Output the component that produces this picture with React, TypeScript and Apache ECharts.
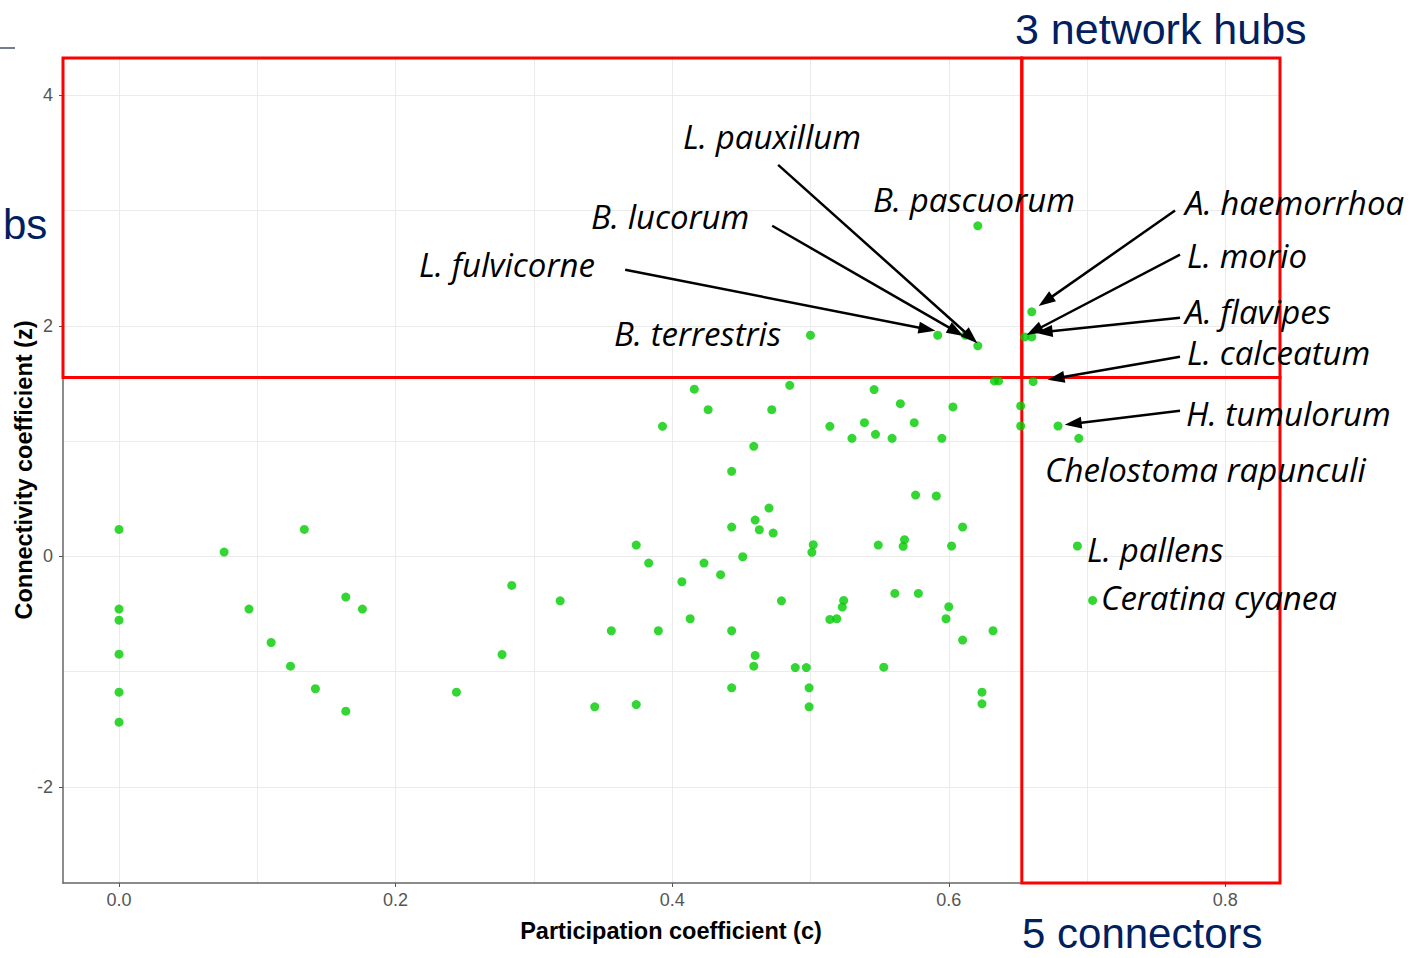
import React, { useEffect, useRef } from "react";
import * as echarts from "echarts";

// ---- data ----
const participation = [
  0, 0, 0, 0, 0, 0,
  0.076, 0.134, 0.164, 0.176, 0.094, 0.110, 0.124, 0.142, 0.244, 0.164,
  0.416, 0.485, 0.426, 0.472, 0.393, 0.514, 0.459, 0.443, 0.470, 0.460,
  0.463, 0.443, 0.473, 0.374, 0.502, 0.501, 0.451, 0.383, 0.423, 0.435,
  0.407, 0.284, 0.319, 0.479, 0.524, 0.523, 0.514, 0.519, 0.413, 0.356,
  0.390, 0.443, 0.277, 0.460, 0.459, 0.489, 0.497, 0.443, 0.499, 0.374,
  0.344, 0.499,
  0.633, 0.636, 0.661, 0.546, 0.565, 0.603, 0.652, 0.539, 0.575, 0.652,
  0.679, 0.530, 0.547, 0.559, 0.595, 0.694, 0.576, 0.591, 0.610, 0.549,
  0.568, 0.567, 0.602, 0.693, 0.704, 0.561, 0.578, 0.600, 0.598, 0.610,
  0.632, 0.553, 0.624, 0.624,
  0.621, 0.660, 0.592, 0.612, 0.621, 0.655, 0.660, 0.500,
];
const connectivity = [
  0.234, -0.457, -0.553, -0.848, -1.178, -1.438,
  0.037, 0.234, -0.353, -0.457, -0.457, -0.747, -0.952, -1.148, -1.178, -1.343,
  1.450, 1.484, 1.273, 1.273, 1.128, 1.128, 0.955, 0.738, 0.419, 0.315,
  0.231, 0.254, 0.202, 0.098, 0.101, 0.035, -0.003, -0.058, -0.058, -0.159,
  -0.220, -0.252, -0.385, -0.385, -0.382, -0.440, -0.547, -0.541, -0.541, -0.645,
  -0.645, -0.645, -0.851, -0.859, -0.952, -0.964, -0.964, -1.140, -1.140, -1.285,
  -1.305, -1.305,
  1.522, 1.522, 1.517, 1.447, 1.325, 1.296, 1.305, 1.160, 1.160, 1.131,
  1.131, 1.024, 1.059, 1.024, 1.024, 1.024, 0.532, 0.524, 0.255, 0.098,
  0.145, 0.087, 0.090, 0.090, -0.382, -0.321, -0.321, -0.437, -0.541, -0.726,
  -0.645, -0.961, -1.178, -1.279,
  2.867, 2.121, 1.918, 1.918, 1.826, 1.904, 1.904, 1.918,
];

const xMajorTicks = [0, 0.2, 0.4, 0.6, 0.8];
const xGridValues = [0, 0.1, 0.2, 0.3, 0.4, 0.5, 0.6, 0.7, 0.8];
const yMajorTicks = [-2, 0, 2, 4];
const yGridValues = [-2, -1, 0, 1, 2, 3, 4];
const xRange = [-0.0405, 0.8395];
const yRange = [-2.833, 4.323];
const hubThreshold = 1.552;
const connectorThreshold = 0.6528;

// annotation arrows (from label -> species point), data coordinates
const arrowStartC = [0.4766, 0.4723, 0.366, 0.7636, 0.7672, 0.7672, 0.7672, 0.7672];
const arrowStartZ = [3.396, 2.868, 2.486, 3.0, 2.617, 2.07, 1.732, 1.264];
const arrowEndC = [0.6161, 0.6053, 0.5843, 0.67, 0.6617, 0.6689, 0.6775, 0.6899];
const arrowEndZ = [1.899, 1.949, 1.971, 2.214, 1.955, 1.947, 1.545, 1.151];

const speciesNames = [
  "L. pauxillum", "B. pascuorum", "B. lucorum", "L. fulvicorne", "B. terrestris",
  "A. haemorrhoa", "L. morio", "A. flavipes", "L. calceatum", "H. tumulorum",
  "Chelostoma rapunculi", "L. pallens", "Ceratina cyanea",
];
const speciesLabelPos: number[][] = [
  [683, 136], [873, 199], [591, 216], [419, 264], [614, 333],
  [1185, 202], [1187, 255], [1185, 311], [1187, 352], [1186, 413],
  [1045, 469], [1087, 549], [1101, 597],
];

const NAVY = "#002060";

export default function App() {
  const ref = useRef<HTMLDivElement>(null);

  useEffect(() => {
    if (!ref.current) return;
    const chart = echarts.init(ref.current, undefined, { renderer: "svg" });

    const points = participation.map((c, i) => [c, connectivity[i]]);
    const arrows = arrowStartC.map((c, i) => [
      { coord: [c, arrowStartZ[i]] },
      { coord: [arrowEndC[i], arrowEndZ[i]] },
    ]);

    const labelFont = "italic 33px 'Open Sans'";
    const graphics: any[] = speciesNames.map((name, i) => ({
      type: "text",
      x: speciesLabelPos[i][0],
      y: speciesLabelPos[i][1],
      z: 100,
      style: {
        text: name,
        font: labelFont,
        lineHeight: 36,
        fill: "#000",
        textAlign: "left",
        textVerticalAlign: "middle",
      },
    }));
    graphics.push(
      {
        type: "text", x: 1015, y: 29, z: 100,
        style: { text: "3 network hubs", font: "43px 'Liberation Sans'", fill: NAVY, textAlign: "left", textVerticalAlign: "middle" },
      },
      {
        type: "text", x: 1022, y: 933, z: 100,
        style: { text: "5 connectors", font: "42px 'Liberation Sans'", fill: NAVY, textAlign: "left", textVerticalAlign: "middle" },
      },
      {
        type: "text", x: 3, y: 224, z: 100,
        style: { text: "bs", font: "42px 'Liberation Sans'", fill: NAVY, textAlign: "left", textVerticalAlign: "middle" },
      },
      {
        type: "line", z: 100,
        shape: { x1: 0, y1: 48, x2: 15, y2: 48 },
        style: { stroke: "#44546a", lineWidth: 1.5 },
      },
      {
        type: "text", x: 671, y: 931, z: 100,
        style: { text: "Participation coefficient (c)", font: "bold 23.5px 'Liberation Sans'", fill: "#000", textAlign: "center", textVerticalAlign: "middle" },
      },
      {
        type: "text", x: 24, y: 470, rotation: Math.PI / 2, z: 100,
        style: { text: "Connectivity coefficient (z)", font: "bold 23.5px 'Liberation Sans'", fill: "#000", textAlign: "center", textVerticalAlign: "middle" },
      }
    );

    const tickLabel = { color: "#555555", fontSize: 18, lineHeight: 18, fontFamily: "'Liberation Sans'" };

    chart.setOption({
      animation: false,
      backgroundColor: "#fff",
      grid: { left: 63, top: 58, width: 1217, height: 825, outerBoundsMode: "none", containLabel: false },
      xAxis: [
        {
          type: "value", min: xRange[0], max: xRange[1], position: "bottom",
          axisLine: { show: true, onZero: false, lineStyle: { color: "#666", width: 1.5 } },
          axisTick: { show: false, customValues: xGridValues },
          axisLabel: { ...tickLabel, margin: 8, customValues: xMajorTicks, formatter: (v: number) => v.toFixed(1) },
          splitLine: { show: true, lineStyle: { color: "#ebebeb", width: 1 } },
        },
        {
          type: "value", min: xRange[0], max: xRange[1], position: "bottom",
          axisLine: { show: false, onZero: false },
          axisTick: { show: true, length: 4, customValues: xMajorTicks, lineStyle: { color: "#555" } },
          axisLabel: { show: false },
          splitLine: { show: false },
        },
      ],
      yAxis: [
        {
          type: "value", min: yRange[0], max: yRange[1], position: "left",
          axisLine: { show: true, onZero: false, lineStyle: { color: "#666", width: 1.5 } },
          axisTick: { show: false, customValues: yGridValues },
          axisLabel: { ...tickLabel, margin: 10, customValues: yMajorTicks, formatter: (v: number) => String(v) },
          splitLine: { show: true, lineStyle: { color: "#ebebeb", width: 1 } },
        },
        {
          type: "value", min: yRange[0], max: yRange[1], position: "left",
          axisLine: { show: false, onZero: false },
          axisTick: { show: true, length: 4, customValues: yMajorTicks, lineStyle: { color: "#555" } },
          axisLabel: { show: false },
          splitLine: { show: false },
        },
      ],
      series: [
        {
          type: "scatter",
          xAxisIndex: 0,
          yAxisIndex: 0,
          data: points,
          symbol: "circle",
          symbolSize: 9,
          clip: false,
          silent: true,
          itemStyle: { color: "#00cc00" },
          markArea: {
            silent: true,
            itemStyle: { color: "rgba(0,0,0,0)", borderColor: "#ff0000", borderWidth: 3 },
            label: { show: false },
            data: [
              [{ coord: [xRange[0], hubThreshold] }, { coord: [connectorThreshold, yRange[1]] }],
              [{ coord: [connectorThreshold, hubThreshold] }, { coord: [xRange[1], yRange[1]] }],
              [{ coord: [connectorThreshold, yRange[0]] }, { coord: [xRange[1], hubThreshold] }],
            ],
          },
          markLine: {
            silent: true,
            symbol: ["none", "triangle"],
            symbolSize: [12, 17],
            label: { show: false },
            lineStyle: { color: "#000", width: 2.5, type: "solid" },
            itemStyle: { color: "#000" },
            data: arrows,
          },
        },
      ],
      graphic: graphics,
    });

    return () => chart.dispose();
  }, []);

  return (
    <div
      ref={ref}
      style={{ position: "absolute", left: 0, top: 0, width: 1426, height: 958 }}
    />
  );
}
